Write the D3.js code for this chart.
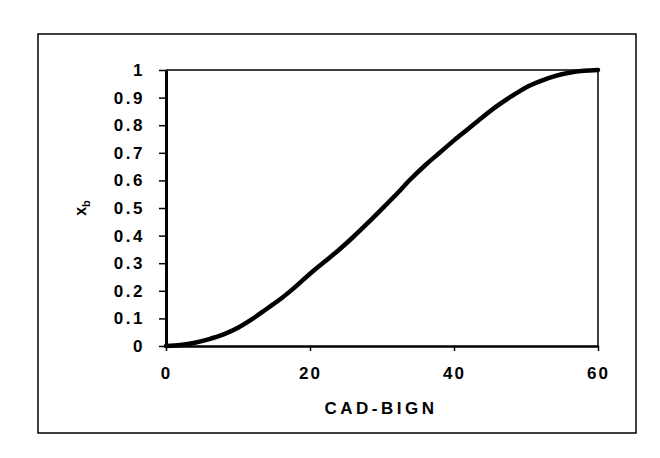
<!DOCTYPE html>
<html>
<head>
    <title>Xb vs CAD-BIGN</title>
    <script src="https://d3js.org/d3.v7.min.js"></script>
    <style>
        body { margin: 0; background: #fff; }
        text { font-family: "Liberation Sans", Arial, sans-serif; font-weight: bold; }
    </style>
</head>
<body>
    <div id="chart"></div>

    <script>
        // crank angle after start of combustion vs burned fraction
        const cad = [0, 2, 4, 6, 8, 10, 12, 14, 16, 18, 20, 22, 24, 26, 28, 30,
                     32, 34, 36, 38, 40, 42, 44, 46, 48, 50, 52, 54, 56, 58, 60];
        const xb = [0, 0.004, 0.012, 0.025, 0.042, 0.066, 0.098, 0.135, 0.172, 0.215, 0.262,
                    0.305, 0.348, 0.395, 0.445, 0.497, 0.55, 0.605, 0.655, 0.70, 0.745,
                    0.787, 0.83, 0.87, 0.905, 0.937, 0.96, 0.978, 0.99, 0.997, 1.0];
        const xTicks = [0, 20, 40, 60];
        const yTicks = [0, 0.1, 0.2, 0.3, 0.4, 0.5, 0.6, 0.7, 0.8, 0.9, 1];

        const W = 660, H = 458;
        const margin = {top: 70, right: 62, bottom: 112, left: 166};
        const width = W - margin.left - margin.right;
        const height = H - margin.top - margin.bottom;

        const root = d3.select("#chart").append("svg")
            .attr("width", W)
            .attr("height", H);

        // outer chart frame
        root.append("rect")
            .attr("x", 38).attr("y", 34)
            .attr("width", 598).attr("height", 399)
            .attr("fill", "none")
            .attr("stroke", "#000")
            .attr("stroke-width", 1.5);

        const svg = root.append("g")
            .attr("transform", "translate(" + margin.left + "," + margin.top + ")");

        const x = d3.scaleLinear().domain([0, 60]).range([0, width]);
        const y = d3.scaleLinear().domain([0, 1]).range([height, 0]);

        // plot area border (top and right)
        svg.append("path")
            .attr("d", "M0,0H" + width + "V" + height)
            .attr("fill", "none")
            .attr("stroke", "#000")
            .attr("stroke-width", 1.5);

        const yAxis = svg.append("g")
            .call(d3.axisLeft(y).tickValues(yTicks).tickSize(7).tickSizeOuter(0)
                .tickFormat(d => d3.format("")(d)));
        yAxis.select(".domain").attr("stroke-width", 3);
        yAxis.selectAll(".tick line").attr("stroke-width", 1.5);
        yAxis.selectAll("text")
            .attr("x", -21)
            .attr("fill", "#000")
            .style("font-size", "17px")
            .style("letter-spacing", "2.5px");

        const xAxis = svg.append("g")
            .attr("transform", "translate(0," + height + ")")
            .call(d3.axisBottom(x).tickValues(xTicks).tickSize(5).tickSizeOuter(0));
        xAxis.select(".domain").attr("stroke-width", 2.5);
        xAxis.selectAll(".tick line").attr("stroke-width", 1.5);
        xAxis.selectAll("text")
            .attr("y", 21)
            .attr("fill", "#000")
            .style("font-size", "17px")
            .style("letter-spacing", "2px");

        const line = d3.line()
            .x((d, i) => x(cad[i]))
            .y(d => y(d))
            .curve(d3.curveMonotoneX);

        svg.append("path")
            .datum(xb)
            .attr("fill", "none")
            .attr("stroke", "#000")
            .attr("stroke-width", 4.5)
            .attr("stroke-linecap", "round")
            .attr("d", line);

        // axis titles
        svg.append("text")
            .attr("x", 215)
            .attr("y", height + 68)
            .attr("text-anchor", "middle")
            .style("font-size", "17px")
            .style("letter-spacing", "3.5px")
            .text("CAD-BIGN");

        const yl = svg.append("text")
            .attr("transform", "translate(-80," + y(0.5) + ") rotate(-90)")
            .attr("text-anchor", "middle")
            .style("font-size", "16px");
        yl.append("tspan").text("x");
        yl.append("tspan").attr("dy", 4).style("font-size", "11px").text("b");
    </script>
</body>
</html>
